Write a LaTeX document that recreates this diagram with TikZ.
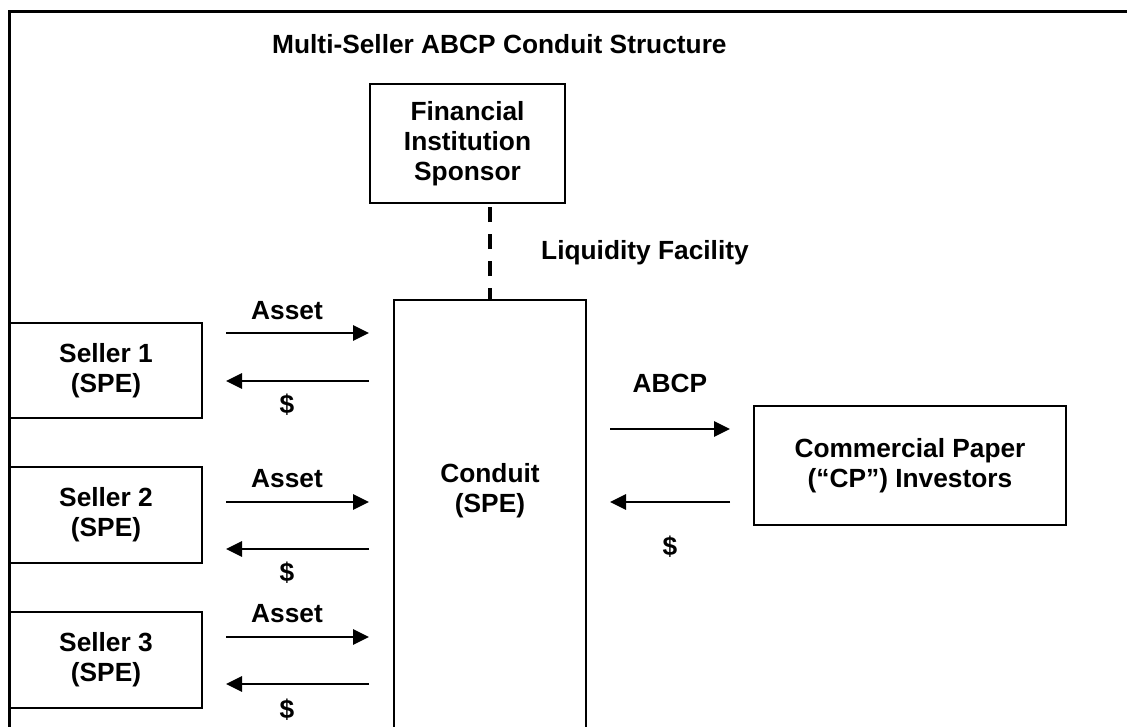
\documentclass[tikz,border=0pt]{standalone}
\usepackage{fontspec}
\setmainfont{Liberation Sans}
\usetikzlibrary{arrows.meta}
\begin{document}
\begin{tikzpicture}[x=1pt,y=-1pt,
  every node/.style={font=\fontsize{26.3}{30}\selectfont\bfseries, align=center, inner sep=0pt},
  box/.style={draw, line width=2.5pt, fill=white},
  flow/.style={line width=2.8pt, -{Triangle[length=16pt,width=15pt]}}]
\useasboundingbox (0,0) rectangle (1127,726);
% outer frame (only top and left edges visible)
\draw[line width=3pt] (9.5,730) -- (9.5,11) -- (1130,11);
% title
\node[anchor=west] (title) at (272,44) {Multi-Seller ABCP Conduit Structure};
% boxes
\node[box, minimum width=195pt, minimum height=119pt] (sponsor) at (467.5,143.5) {Financial\\Institution\\Sponsor};
\draw[box] (394,300) rectangle (586,740);
\node (conduit) at (490,491) {Conduit\\(SPE)};
\coordinate (ctop) at (490,300);
\node[box, minimum width=312pt, minimum height=119pt] (cp) at (910,465.5) {Commercial Paper\\(“CP”) Investors};
\node[box, minimum width=192pt, minimum height=95pt] (s1) at (106,370.5) {Seller 1\\(SPE)};
\node[box, minimum width=192pt, minimum height=96pt] (s2) at (106,515) {Seller 2\\(SPE)};
\node[box, minimum width=192pt, minimum height=96pt] (s3) at (106,660) {Seller 3\\(SPE)};
% liquidity facility
\draw[line width=3.2pt, dash pattern=on 15pt off 12pt, dash phase=3pt] (ctop) -- (ctop |- sponsor.south);
\node[anchor=west] (liq) at (541,253) {Liquidity Facility};
% seller arrows
\coordinate (a1l) at (226,333); \coordinate (a1r) at (369,333);
\coordinate (d1l) at (226,381); \coordinate (d1r) at (369,381);
\coordinate (a2l) at (226,502); \coordinate (a2r) at (369,502);
\coordinate (d2l) at (226,549); \coordinate (d2r) at (369,549);
\coordinate (a3l) at (226,637); \coordinate (a3r) at (369,637);
\coordinate (d3l) at (226,684); \coordinate (d3r) at (369,684);
\draw[flow] (a1l) -- (a1r);
\draw[flow] (d1r) -- (d1l);
\draw[flow] (a2l) -- (a2r);
\draw[flow] (d2r) -- (d2l);
\draw[flow] (a3l) -- (a3r);
\draw[flow] (d3r) -- (d3l);
\node (asset1) at (287,311) {Asset};
\node (usd1) at (287,405) {\$};
\node (asset2) at (287,479) {Asset};
\node (usd2) at (287,573) {\$};
\node (asset3) at (287,614) {Asset};
\node (usd3) at (287,710) {\$};
% CP arrows
\coordinate (pl) at (610,429); \coordinate (pr) at (730,429);
\coordinate (ql) at (610,502); \coordinate (qr) at (730,502);
\draw[flow] (pl) -- (pr);
\draw[flow] (qr) -- (ql);
\node (abcp) at (670,383) {ABCP};
\node (usd4) at (670,547) {\$};
\end{tikzpicture}
\end{document}
